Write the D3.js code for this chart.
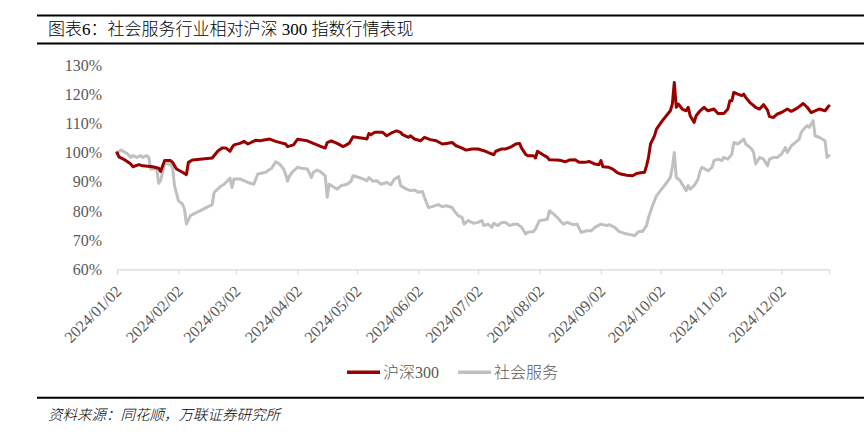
<!DOCTYPE html>
<html>
<head>
<meta charset="utf-8">
<script src="https://cdn.jsdelivr.net/npm/d3@7"></script>
<style>
  html, body { margin: 0; padding: 0; background: #fff; }
  svg { display: block; }
</style>
</head>
<body>
<svg id="chart" width="864" height="438"></svg>
<script>
// ---------------- data ----------------
const titleText = "图表6：社会服务行业相对沪深 300 指数行情表现";
const sourceText = "资料来源：同花顺，万联证券研究所";
const seriesNames = ["沪深300", "社会服务"];
const yTicks = [60, 70, 80, 90, 100, 110, 120, 130];
const xTickLabels = ["2024/01/02","2024/02/02","2024/03/02","2024/04/02","2024/05/02","2024/06/02",
  "2024/07/02","2024/08/02","2024/09/02","2024/10/02","2024/11/02","2024/12/02"];
const xDomain = ["2024/01/02", "2024/12/26"];

const hs300Dates = ["01-02","01-03","01-06","01-09","01-10","01-13","01-15","01-20","01-23","01-24",
  "01-26","01-29","01-30","02-01","02-04","02-06","02-07","02-09","02-19","02-22","02-24","02-26",
  "02-28","02-29","03-01","03-04","03-06","03-08","03-12","03-14","03-19","03-22","03-27","03-28",
  "03-31","04-02","04-07","04-10","04-14","04-16","04-17","04-19","04-22","04-25","04-28","04-30",
  "05-05","05-07","05-08","05-09","05-11","05-15","05-17","05-20","05-22","05-24","05-25","05-28",
  "05-29","05-31","06-03","06-05","06-08","06-11","06-14","06-16","06-19","06-21","06-24","06-26",
  "06-29","07-02","07-05","07-07","07-10","07-11","07-14","07-16","07-19","07-21","07-23","07-24",
  "07-26","07-27","07-30","07-31","08-01","08-04","08-06","08-07","08-11","08-13","08-15","08-17",
  "08-20","08-22","08-25","08-27","08-30","09-01","09-02","09-03","09-06","09-08","09-10","09-12",
  "09-15","09-18","09-20","09-22","09-24","09-25","09-26","09-27","09-29","09-30","10-03","10-07",
  "10-08","10-09","10-10","10-11","10-13","10-15","10-16","10-17","10-19","10-20","10-22","10-24",
  "10-26","10-29","10-31","11-03","11-05","11-06","11-07","11-08","11-10","11-12","11-13","11-14",
  "11-16","11-19","11-21","11-23","11-25","11-26","11-28","11-30","12-02","12-05","12-07","12-10",
  "12-13","12-15","12-17","12-19","12-21","12-24","12-26"];
const hs300Values = [100.0,98.6,97.5,96.1,95.2,95.9,95.5,95.2,94.7,93.6,
  97.3,97.3,96.7,94.4,93.3,92.5,96.7,97.5,98.2,100.7,101.6,101.6,
  100.5,101.8,102.7,103.2,103.9,103.0,104.3,104.1,104.7,103.9,103.0,102.1,
  102.7,104.6,104.1,103.2,102.1,101.6,103.5,104.1,103.2,102.1,103.2,105.5,
  105.0,104.7,106.6,106.2,107.0,107.0,105.8,107.0,107.5,107.0,106.2,105.3,
  105.8,104.7,104.1,105.3,104.5,104.1,103.0,103.2,103.5,102.4,101.6,100.9,
  101.3,101.3,100.7,100.1,99.3,100.5,101.3,101.3,102.1,103.0,103.2,101.6,
  99.5,99.0,99.0,98.2,100.5,99.2,98.4,97.6,97.5,97.3,96.9,97.5,
  97.6,96.7,96.7,97.0,96.1,95.9,97.3,95.2,95.0,94.4,93.3,92.7,
  92.3,92.1,92.9,93.1,93.3,95.5,98.4,103.0,105.8,108.1,111.0,114.4,
  116.7,124.1,115.6,116.7,115.0,114.4,115.6,112.7,110.4,112.7,114.4,115.6,
  114.4,115.0,113.5,113.5,115.0,117.8,117.8,120.7,120.1,119.6,120.1,119.0,
  117.3,115.6,115.0,116.5,114.6,112.4,112.1,113.3,113.8,115.0,114.2,115.3,
  116.9,115.6,113.8,114.4,115.0,114.4,116.1];

const socialDates = ["01-02","01-04","01-07","01-09","01-10","01-12","01-14","01-15","01-17","01-18",
  "01-19","01-20","01-22","01-23","01-24","01-26","01-28","01-30","01-31","02-02","02-04","02-05",
  "02-06","02-08","02-19","02-20","02-23","02-25","02-28","02-29","03-01","03-04","03-06","03-08",
  "03-11","03-13","03-17","03-18","03-20","03-22","03-24","03-26","03-27","03-28","03-29","03-31",
  "04-02","04-04","04-07","04-09","04-10","04-12","04-14","04-16","04-17","04-18","04-20","04-22",
  "04-24","04-27","04-29","04-30","05-03","05-05","05-07","05-08","05-10","05-12","05-14","05-17",
  "05-19","05-21","05-23","05-24","05-27","05-29","05-31","06-02","06-04","06-05","06-07","06-09",
  "06-12","06-14","06-16","06-19","06-20","06-22","06-24","06-25","06-27","06-30","07-02","07-04",
  "07-05","07-07","07-09","07-10","07-12","07-14","07-16","07-18","07-20","07-22","07-24","07-26",
  "07-27","07-30","07-31","08-02","08-04","08-06","08-07","08-09","08-11","08-14","08-16","08-19",
  "08-21","08-23","08-26","08-28","08-30","09-02","09-05","09-06","09-09","09-11","09-14","09-17",
  "09-19","09-21","09-23","09-25","09-26","09-28","09-30","10-04","10-07","10-08","10-09","10-10",
  "10-12","10-13","10-15","10-16","10-17","10-19","10-21","10-22","10-23","10-26","10-28","10-29",
  "10-31","11-02","11-03","11-05","11-07","11-08","11-10","11-12","11-13","11-14","11-17","11-18",
  "11-19","11-21","11-23","11-25","11-26","11-28","11-30","12-02","12-04","12-05","12-07","12-10",
  "12-11","12-12","12-14","12-15","12-16","12-18","12-19","12-21","12-24","12-25","12-26"];
const socialValues = [100.0,100.9,99.8,98.4,99.0,98.4,99.0,98.4,99.0,98.4,
  94.4,94.4,94.7,89.5,90.4,96.1,96.3,95.2,88.7,83.5,82.4,80.7,
  75.5,78.4,82.2,86.4,88.3,89.2,91.3,88.1,91.0,91.0,90.4,89.8,
  89.2,92.7,93.3,93.8,94.7,96.9,96.1,94.4,92.7,90.2,92.1,93.8,
  95.0,94.7,94.4,91.5,93.3,94.1,93.3,92.1,84.7,89.2,88.3,87.5,
  88.7,89.2,90.2,92.1,91.5,91.0,90.4,91.5,90.2,90.4,89.2,89.8,
  89.0,91.0,91.8,88.7,87.5,87.0,87.2,86.4,86.7,84.7,81.2,81.5,
  82.2,81.5,81.8,81.2,80.1,78.4,77.8,75.5,76.7,75.8,76.1,76.7,
  75.0,75.5,74.4,75.8,75.0,76.1,76.1,75.0,75.5,75.5,74.4,72.1,
  72.7,73.0,73.8,76.7,76.9,77.2,80.1,79.0,77.8,75.5,76.1,75.3,
  75.5,72.7,73.2,73.2,74.4,75.5,75.0,75.3,74.4,73.0,72.3,71.9,
  71.5,73.0,73.0,75.0,77.8,81.8,85.2,88.7,91.5,95.0,100.1,91.5,
  90.4,89.2,87.0,88.7,87.5,88.7,91.0,93.8,95.0,93.8,95.0,97.3,
  97.8,97.3,98.4,97.8,99.5,103.5,103.0,104.1,104.7,103.0,101.3,100.1,
  96.1,98.4,97.8,95.5,97.8,98.4,98.4,99.5,101.8,100.1,102.4,104.1,
  104.7,107.0,108.7,109.3,108.7,111.0,105.8,105.3,104.1,98.4,99.0];

const seriesColors = ["#990000", "#c0c0c0"];

// ---------------- chart ----------------
const svg = d3.select("#chart");
const parseFull = d3.timeParse("%Y/%m/%d");
const parseShort = s => d3.timeParse("%Y-%m-%d")("2024-" + s);

const plot = { left: 117, right: 829, top: 65.3, bottom: 269.3 };
const serif = "'Liberation Serif', 'Times New Roman', serif";
const cjkFont = "'Noto Sans CJK SC', sans-serif";
const labelColor = "#595959";

// writes mixed text: digit runs in serif regular, CJK runs in light CJK font
function mixedText(sel, str) {
  const parts = str.match(/[0-9 ]+|[^0-9 ]+/g);
  parts.forEach(p => {
    const isNum = /^[0-9 ]+$/.test(p);
    sel.append("tspan")
      .attr("font-family", isNum ? serif : cjkFont)
      .attr("font-weight", isNum ? 400 : 300)
      .attr("xml:space", "preserve")
      .style("white-space", "pre")
      .text(p);
  });
  return sel;
}

const x = d3.scaleTime()
  .domain(xDomain.map(parseFull))
  .range([plot.left, plot.right]);
const y = d3.scaleLinear()
  .domain([d3.min(yTicks), d3.max(yTicks)])
  .range([plot.bottom, plot.top]);

// header rules + title
svg.append("line").attr("x1", 37).attr("x2", 864).attr("y1", 15.5).attr("y2", 15.5)
  .attr("stroke", "#000").attr("stroke-width", 2);
svg.append("line").attr("x1", 37).attr("x2", 864).attr("y1", 43.5).attr("y2", 43.5)
  .attr("stroke", "#000").attr("stroke-width", 2);
mixedText(svg.append("text").attr("x", 48).attr("y", 35)
  .attr("font-size", 17).attr("fill", "#000"), titleText);

// y axis
const yAxis = svg.append("g").attr("transform", `translate(${plot.left},0)`)
  .call(d3.axisLeft(y).tickValues(yTicks).tickSize(0).tickPadding(15).tickFormat(d => d + "%"));
yAxis.select(".domain").remove();
yAxis.selectAll("text").attr("font-family", serif).attr("font-size", 16).attr("fill", labelColor);

// x axis
const xAxis = svg.append("g").attr("transform", `translate(0,${plot.bottom})`)
  .call(d3.axisBottom(x).tickValues(xTickLabels.map(parseFull)).tickSizeOuter(0).tickSize(5)
    .tickFormat(d3.timeFormat("%Y/%m/%d")));
xAxis.select(".domain").attr("stroke", "#d9d9d9").attr("stroke-width", 1.2);
xAxis.selectAll(".tick line").attr("stroke", "#d9d9d9").attr("stroke-width", 1.2);
xAxis.selectAll(".tick text")
  .attr("font-family", serif).attr("font-size", 16).attr("fill", labelColor)
  .attr("text-anchor", "end")
  .attr("x", 0).attr("y", 0).attr("dy", 0)
  .attr("transform", "translate(5,23) rotate(-45)");

// lines
const line = d3.line().x(d => x(d[0])).y(d => y(d[1])).curve(d3.curveLinear);
const socialData = socialDates.map((d, i) => [parseShort(d), socialValues[i]]);
const hs300Data = hs300Dates.map((d, i) => [parseShort(d), hs300Values[i]]);

svg.append("path").datum(socialData).attr("d", line)
  .attr("fill", "none").attr("stroke", seriesColors[1]).attr("stroke-width", 3)
  .attr("stroke-linejoin", "round").attr("stroke-linecap", "round");
svg.append("path").datum(hs300Data).attr("d", line)
  .attr("fill", "none").attr("stroke", seriesColors[0]).attr("stroke-width", 3)
  .attr("stroke-linejoin", "round").attr("stroke-linecap", "round");

// legend
const legendItems = [
  { name: seriesNames[0], color: seriesColors[0], x0: 347 },
  { name: seriesNames[1], color: seriesColors[1], x0: 458 }
];
const lg = svg.append("g");
legendItems.forEach(it => {
  lg.append("line").attr("x1", it.x0).attr("x2", it.x0 + 33).attr("y1", 372.3).attr("y2", 372.3)
    .attr("stroke", it.color).attr("stroke-width", 3.5);
  mixedText(lg.append("text").attr("x", it.x0 + 36).attr("y", 378)
    .attr("font-size", 16).attr("fill", labelColor), it.name);
});

// footer
svg.append("line").attr("x1", 37).attr("x2", 864).attr("y1", 397.7).attr("y2", 397.7)
  .attr("stroke", "#000").attr("stroke-width", 2);
svg.append("text").attr("x", 48).attr("y", 420)
  .attr("font-family", cjkFont).attr("font-size", 14.5).attr("font-style", "italic").attr("font-weight", 300)
  .attr("fill", "#000")
  .text(sourceText);
</script>
</body>
</html>
